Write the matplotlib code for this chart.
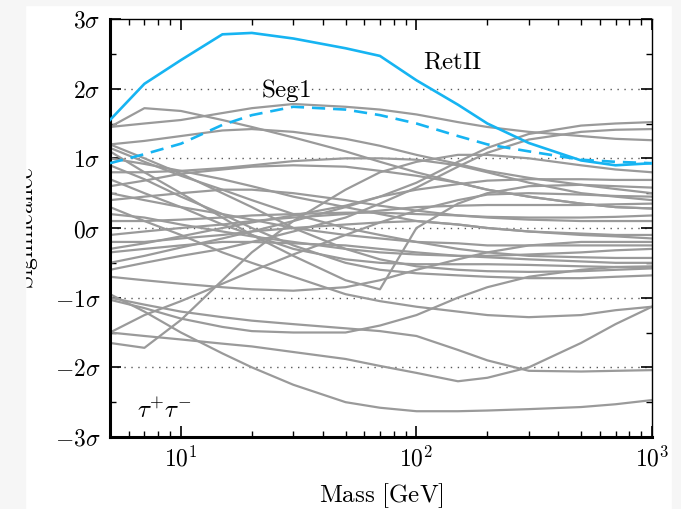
import numpy as np
import matplotlib
matplotlib.use('Agg')
import matplotlib.pyplot as plt
from matplotlib.patches import Rectangle
from matplotlib.ticker import LogLocator, MultipleLocator, NullFormatter

plt.rcParams['mathtext.fontset'] = 'cm'
plt.rcParams['font.family'] = 'DejaVu Serif'

# mass grid [GeV]
mass = [5, 7, 10, 15, 20, 30, 50, 70, 100, 150, 200, 300, 500, 700, 1000]

# highlighted dwarfs
retii = [1.55, 2.07, 2.41, 2.78, 2.80, 2.72, 2.58, 2.47, 2.12, 1.77, 1.50, 1.22, 0.97, 0.90, 0.93]
seg1 = [0.93, 1.06, 1.21, 1.48, 1.62, 1.74, 1.70, 1.62, 1.50, 1.32, 1.20, 1.10, 0.98, 0.95, 0.93]

# remaining dwarfs (grey)
others = [
    [1.45, 1.72, 1.68, 1.55, 1.45, 1.30, 1.10, 0.95, 0.80, 0.65, 0.55, 0.45, 0.35, 0.30, 0.28],
    [1.45, 1.50, 1.55, 1.65, 1.72, 1.78, 1.74, 1.70, 1.63, 1.52, 1.45, 1.38, 1.32, 1.28, 1.26],
    [1.20, 1.25, 1.32, 1.40, 1.42, 1.38, 1.28, 1.18, 1.05, 0.92, 0.82, 0.72, 0.62, 0.56, 0.50],
    [-0.30, -0.22, -0.12, 0.00, 0.08, 0.18, 0.32, 0.45, 0.65, 0.95, 1.15, 1.35, 1.47, 1.50, 1.52],
    [-0.60, -0.50, -0.40, -0.30, -0.20, -0.05, 0.15, 0.35, 0.58, 0.88, 1.08, 1.27, 1.38, 1.41, 1.42],
    [-1.65, -1.72, -1.32, -0.75, -0.35, 0.10, 0.55, 0.80, 0.95, 1.05, 1.05, 1.00, 0.90, 0.84, 0.80],
    [1.20, 1.00, 0.78, 0.50, 0.30, 0.00, -0.30, -0.45, -0.55, -0.60, -0.62, -0.63, -0.62, -0.60, -0.58],
    [1.15, 0.95, 0.75, 0.55, 0.40, 0.20, 0.00, -0.10, -0.20, -0.30, -0.35, -0.40, -0.42, -0.43, -0.43],
    [1.00, 0.92, 0.82, 0.70, 0.60, 0.45, 0.30, 0.20, 0.10, 0.05, 0.00, -0.05, -0.08, -0.10, -0.10],
    [0.90, 0.70, 0.45, 0.20, 0.00, -0.25, -0.50, -0.60, -0.65, -0.68, -0.70, -0.72, -0.72, -0.70, -0.68],
    [0.80, 0.80, 0.82, 0.86, 0.90, 0.96, 1.00, 1.00, 0.98, 0.90, 0.80, 0.65, 0.50, 0.45, 0.40],
    [0.60, 0.68, 0.78, 0.84, 0.88, 0.90, 0.88, 0.82, 0.75, 0.65, 0.55, 0.45, 0.35, 0.30, 0.28],
    [0.50, 0.40, 0.30, 0.20, 0.12, 0.00, -0.10, -0.15, -0.20, -0.22, -0.25, -0.25, -0.25, -0.25, -0.25],
    [0.40, 0.45, 0.50, 0.55, 0.55, 0.50, 0.40, 0.32, 0.25, 0.18, 0.15, 0.12, 0.10, 0.10, 0.10],
    [0.10, 0.10, 0.12, 0.15, 0.18, 0.20, 0.22, 0.22, 0.20, 0.18, 0.16, 0.15, 0.15, 0.16, 0.18],
    [-0.10, -0.05, 0.00, 0.05, 0.10, 0.15, 0.20, 0.25, 0.30, 0.32, 0.33, 0.33, 0.33, 0.34, 0.35],
    [-0.20, -0.20, -0.15, -0.10, -0.05, 0.00, 0.05, 0.08, 0.10, 0.05, 0.00, -0.05, -0.10, -0.12, -0.15],
    [-0.35, -0.30, -0.25, -0.20, -0.20, -0.22, -0.25, -0.30, -0.35, -0.40, -0.42, -0.45, -0.48, -0.50, -0.50],
    [-0.50, -0.40, -0.28, -0.15, -0.05, 0.10, 0.30, 0.45, 0.55, 0.63, 0.68, 0.70, 0.70, 0.69, 0.69],
    [-0.70, -0.75, -0.80, -0.85, -0.88, -0.90, -0.85, -0.75, -0.60, -0.45, -0.35, -0.25, -0.20, -0.20, -0.20],
    [-1.03, -1.15, -1.30, -1.42, -1.48, -1.50, -1.50, -1.40, -1.25, -1.00, -0.85, -0.70, -0.60, -0.56, -0.55],
    [1.10, 0.80, 0.50, 0.15, -0.10, -0.40, -0.75, -0.88, 0.00, 0.35, 0.50, 0.60, 0.62, 0.60, 0.58],
    [0.30, 0.10, -0.10, -0.35, -0.50, -0.70, -0.95, -1.05, -1.13, -1.20, -1.25, -1.28, -1.25, -1.18, -1.13],
    [-1.00, -1.10, -1.20, -1.28, -1.33, -1.38, -1.44, -1.48, -1.55, -1.75, -1.90, -2.05, -2.06, -2.05, -2.04],
    [-1.50, -1.55, -1.60, -1.66, -1.70, -1.78, -1.88, -1.98, -2.08, -2.20, -2.15, -2.00, -1.65, -1.38, -1.13],
    [-0.95, -1.20, -1.50, -1.80, -2.00, -2.25, -2.50, -2.58, -2.63, -2.63, -2.62, -2.60, -2.57, -2.53, -2.47],
    [-1.50, -1.25, -1.05, -0.80, -0.62, -0.38, -0.10, 0.08, 0.25, 0.40, 0.48, 0.50, 0.48, 0.46, 0.45],
    [0.70, 0.50, 0.30, 0.05, -0.10, -0.30, -0.45, -0.50, -0.52, -0.52, -0.52, -0.53, -0.55, -0.56, -0.57],
    [0.20, 0.15, 0.05, -0.05, -0.12, -0.20, -0.30, -0.35, -0.38, -0.40, -0.40, -0.38, -0.35, -0.32, -0.30],
]

sig_ticks = [-3, -2, -1, 0, 1, 2, 3]
sig_labels = [r'$-3\sigma$', r'$-2\sigma$', r'$-1\sigma$', r'$0\sigma$', r'$1\sigma$', r'$2\sigma$', r'$3\sigma$']

fig = plt.figure(figsize=(6.81, 5.09), dpi=100)
ax = fig.add_axes([110/681, 1-437/509, 542/681, 418/509])

for s in [-2, -1, 0, 1, 2]:
    ax.axhline(s, color='0.35', lw=1.0, ls=(0, (1, 4)), zorder=1)

for y in others:
    ax.plot(mass, y, color='#9a9a9a', lw=1.6, zorder=2)

blue = '#16b4f2'
ax.plot(mass, seg1, color=blue, lw=1.9, ls=(0, (5, 3)), zorder=3)
ax.plot(mass, retii, color=blue, lw=1.9, zorder=4)

ax.text(142, 2.38, r'$\mathrm{RetII}$', fontsize=18, ha='center', va='center')
ax.text(28, 1.98, r'$\mathrm{Seg1}$', fontsize=18, ha='center', va='center')
ax.text(0.05, 0.045, r'$\tau^{+}\tau^{-}$', fontsize=18, transform=ax.transAxes)

ax.set_xscale('log')
ax.set_xlim(5, 1000)
ax.set_ylim(-3, 3)
ax.set_yticks(sig_ticks)
ax.set_yticklabels(sig_labels)
ax.yaxis.set_minor_locator(MultipleLocator(0.5))
ax.set_xticks([10, 100, 1000])
ax.set_xticklabels([r'$10^{1}$', r'$10^{2}$', r'$10^{3}$'])
ax.xaxis.set_minor_locator(LogLocator(base=10, subs=np.arange(2, 10)))
ax.xaxis.set_minor_formatter(NullFormatter())
ax.tick_params(which='both', direction='in', top=True, right=True, labelsize=17)
ax.tick_params(which='major', length=8, width=1.2)
ax.tick_params(which='minor', length=4, width=1.0)
ax.tick_params(axis='y', pad=7)
ax.tick_params(axis='x', pad=7)
for side in ['left', 'bottom']:
    ax.spines[side].set_linewidth(2.2)
for side in ['top', 'right']:
    ax.spines[side].set_linewidth(1.0)

ax.set_xlabel(r'$\mathrm{Mass\ [GeV]}$', fontsize=18)
ax.xaxis.set_label_coords(0.5, -0.105)
fig.text(27/681, 1-228/509, r'$\mathrm{Significance}$', fontsize=17, rotation=90, ha='center', va='center')

# cropped border of the original screenshot
edge = '#f6f6f6'
fig.patches.append(Rectangle((0, 0), 25/681, 1, transform=fig.transFigure, color=edge, zorder=10))
fig.patches.append(Rectangle((0, 1-5/509), 1, 5/509, transform=fig.transFigure, color=edge, zorder=10))
fig.patches.append(Rectangle((672/681, 0), 9/681, 1, transform=fig.transFigure, color=edge, zorder=10))

fig.savefig('out.png', dpi=100)
